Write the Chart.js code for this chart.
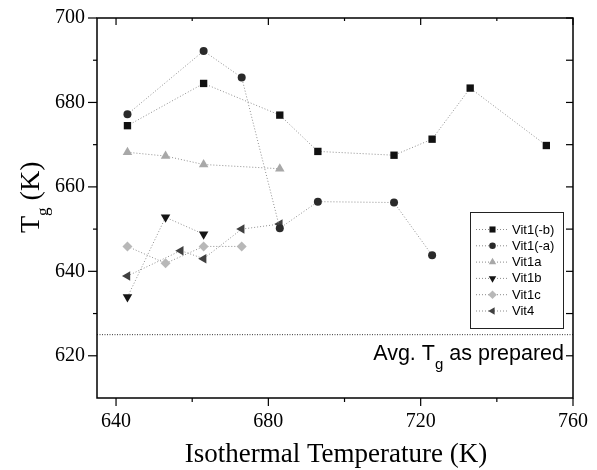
<!DOCTYPE html>
<html>
<head>
<meta charset="utf-8">
<script src="https://cdn.jsdelivr.net/npm/chart.js@4/dist/chart.umd.min.js"></script>
<style>
  html, body { margin: 0; padding: 0; background: #fff; }
  #wrap { width: 597px; height: 470px; }
</style>
</head>
<body>
<div id="wrap"><canvas id="c" width="597" height="470"></canvas></div>
<script>
// series (isothermal temperature in K, Tg in K)
const vit1bmX = [643, 663, 683, 693, 713, 723, 733, 753];
const vit1bmY = [674.5, 684.5, 677, 668.4, 667.5, 671.3, 683.4, 669.8];
const vit1amX = [643, 663, 673, 683, 693, 713, 723];
const vit1amY = [677.2, 692.2, 685.9, 650.2, 656.5, 656.3, 643.8];
const vit1aX = [643, 653, 663, 683];
const vit1aY = [668.2, 667.3, 665.3, 664.3];
const vit1bX = [643, 653, 663];
const vit1bY = [633.9, 652.8, 648.8];
const vit1cX = [643, 653, 663, 673];
const vit1cY = [645.9, 641.9, 645.9, 645.9];
const vit4X = [643, 657, 663, 673, 683];
const vit4Y = [638.9, 644.9, 643, 650, 651.2];
const avgTg = 625;

const xTickLabels = [640, 680, 720, 760];
const xMinorTicks = [660, 700, 740];
const yTickLabels = [620, 640, 660, 680, 700];
const yMinorTicks = [630, 650, 670, 690];

const SERIF = "'Liberation Serif', 'Times New Roman', serif";
const SANS = "'Liberation Sans', Arial, sans-serif";

const pts = (xs, ys) => xs.map((x, i) => ({ x: x, y: ys[i] }));

const series = [
  { label: 'Vit1(-b)', xs: vit1bmX, ys: vit1bmY, color: '#111', style: 'rect', radius: 5.2, rot: 0 },
  { label: 'Vit1(-a)', xs: vit1amX, ys: vit1amY, color: '#2a2a2a', style: 'circle', radius: 4, rot: 0 },
  { label: 'Vit1a', xs: vit1aX, ys: vit1aY, color: '#a8a8a8', style: 'triangle', radius: 5.5, rot: 0 },
  { label: 'Vit1b', xs: vit1bX, ys: vit1bY, color: '#151515', style: 'triangle', radius: 5.5, rot: 180 },
  { label: 'Vit1c', xs: vit1cX, ys: vit1cY, color: '#b8b8b8', style: 'rectRot', radius: 5, rot: 0 },
  { label: 'Vit4', xs: vit4X, ys: vit4Y, color: '#404040', style: 'triangle', radius: 5.5, rot: 270 },
];

const datasets = series.map(s => ({
  label: s.label,
  data: pts(s.xs, s.ys),
  showLine: true,
  borderColor: '#8f8f8f',
  borderWidth: 1,
  borderDash: [1, 2],
  pointStyle: s.style,
  pointRotation: s.rot,
  pointRadius: s.radius,
  pointBackgroundColor: s.color,
  pointBorderColor: s.color,
  pointBorderWidth: 0,
  order: 1,
}));

datasets.push({
  label: 'avg',
  data: [{ x: 635, y: avgTg }, { x: 760, y: avgTg }],
  showLine: true,
  borderColor: '#333',
  borderWidth: 1,
  borderDash: [1, 1.5],
  pointRadius: 0,
  order: 2,
});

function drawMarker(ctx, s, x, y, r) {
  ctx.fillStyle = s.color;
  ctx.strokeStyle = s.color;
  if (Chart.helpers && Chart.helpers.drawPoint) {
    Chart.helpers.drawPoint(ctx, { pointStyle: s.style, rotation: s.rot, radius: r, borderWidth: 0 }, x, y);
  } else {
    ctx.beginPath();
    ctx.arc(x, y, r, 0, Math.PI * 2);
    ctx.fill();
  }
}

const decor = {
  id: 'decor',
  afterDraw(chart) {
    const { ctx, chartArea: a, scales: { x, y } } = chart;
    ctx.save();
    // frame
    ctx.strokeStyle = '#000';
    ctx.lineWidth = 1.5;
    ctx.setLineDash([]);
    ctx.strokeRect(a.left, a.top, a.right - a.left, a.bottom - a.top);

    // ticks: outward on bottom/left, inward on top/right
    ctx.lineWidth = 1.2;
    const seg = (x1, y1, x2, y2) => { ctx.beginPath(); ctx.moveTo(x1, y1); ctx.lineTo(x2, y2); ctx.stroke(); };
    xTickLabels.concat(xMinorTicks).forEach(v => {
      const px = x.getPixelForValue(v);
      const len = xTickLabels.includes(v) ? 8 : 4;
      seg(px, a.bottom, px, a.bottom + len);
      seg(px, a.top, px, a.top + len - 1);
    });
    yTickLabels.concat(yMinorTicks).forEach(v => {
      const py = y.getPixelForValue(v);
      const len = yTickLabels.includes(v) ? 9 : 4;
      seg(a.left - len, py, a.left, py);
      seg(a.right - 7, py, a.right, py);
    });

    // legend
    const lx = 470, ly = 212, lw = 93, lh = 116;
    ctx.fillStyle = '#fff';
    ctx.fillRect(lx, ly, lw, lh);
    ctx.lineWidth = 1;
    ctx.strokeStyle = '#222';
    ctx.strokeRect(lx + 0.5, ly + 0.5, lw, lh);
    ctx.font = '13px ' + SANS;
    ctx.textBaseline = 'middle';
    ctx.textAlign = 'left';
    series.forEach((s, i) => {
      const ry = 229.5 + i * 16.3;
      ctx.strokeStyle = '#8a8a8a';
      ctx.setLineDash([1, 2]);
      seg(476, ry, 509, ry);
      ctx.setLineDash([]);
      drawMarker(ctx, s, 492.5, ry, s.style === 'circle' ? 3.3 : 4.3);
      ctx.fillStyle = '#000';
      ctx.fillText(s.label, 512, ry + 0.5);
    });

    // annotation "Avg. Tg as prepared"
    ctx.textBaseline = 'alphabetic';
    const big = '21.5px ' + SANS, small = '15px ' + SANS;
    ctx.font = big;
    const w1 = ctx.measureText('Avg. T').width;
    const w3 = ctx.measureText(' as prepared').width;
    ctx.font = small;
    const w2 = ctx.measureText('g').width;
    let tx = 564 - (w1 + w2 + w3);
    ctx.fillStyle = '#000';
    ctx.font = big;
    ctx.fillText('Avg. T', tx, 360);
    ctx.font = small;
    ctx.fillText('g', tx + w1, 369);
    ctx.font = big;
    ctx.fillText(' as prepared', tx + w1 + w2, 360);

    // y axis title "Tg (K)"
    ctx.translate(39, 233);
    ctx.rotate(-Math.PI / 2);
    ctx.font = '28px ' + SERIF;
    const tw = ctx.measureText('T').width;
    ctx.fillText('T', 0, 0);
    ctx.font = '17px ' + SERIF;
    const gw = ctx.measureText('g').width;
    ctx.fillText('g', tw, 9);
    ctx.font = '28px ' + SERIF;
    ctx.fillText(' (K)', tw + gw, 0);
    ctx.restore();

    // x axis title
    ctx.save();
    ctx.font = '27px ' + SERIF;
    ctx.fillStyle = '#000';
    ctx.textAlign = 'center';
    ctx.textBaseline = 'alphabetic';
    ctx.fillText('Isothermal Temperature (K)', 336, 462);
    ctx.restore();
  }
};

new Chart(document.getElementById('c'), {
  type: 'scatter',
  data: { datasets: datasets },
  options: {
    responsive: false,
    animation: false,
    layout: { padding: { top: 18, right: 24, left: 0, bottom: 0 } },
    plugins: { legend: { display: false }, tooltip: { enabled: false } },
    scales: {
      x: {
        type: 'linear',
        min: 635,
        max: 760,
        afterBuildTicks: s => { s.ticks = xTickLabels.map(v => ({ value: v })); },
        afterFit: s => { s.height = 72; s.paddingLeft = 0; s.paddingRight = 0; },
        grid: { display: false, drawTicks: false },
        border: { display: false },
        ticks: { color: '#000', padding: 12, font: { family: SERIF, size: 20 }, maxRotation: 0 },
      },
      y: {
        type: 'linear',
        min: 610,
        max: 700,
        afterBuildTicks: s => { s.ticks = yTickLabels.map(v => ({ value: v })); },
        afterFit: s => { s.width = 97; s.paddingTop = 0; s.paddingBottom = 0; },
        grid: { display: false, drawTicks: false },
        border: { display: false },
        ticks: { color: '#000', padding: 12, font: { family: SERIF, size: 20 } },
      },
    },
  },
  plugins: [decor],
});
</script>
</body>
</html>
